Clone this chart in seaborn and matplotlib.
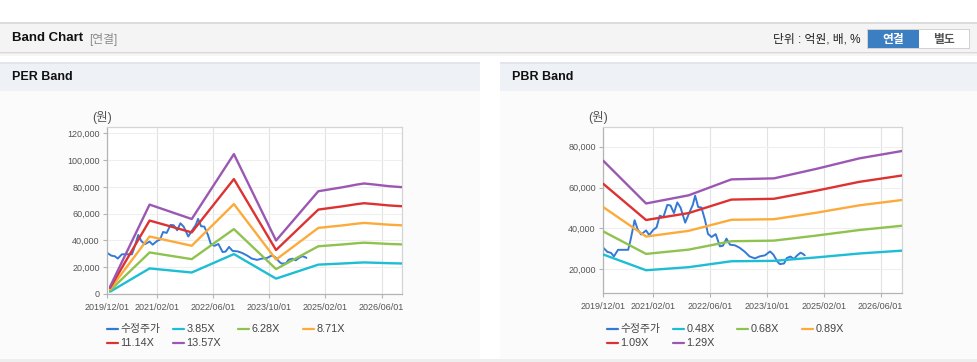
import matplotlib
matplotlib.use("Agg")
import matplotlib.pyplot as plt
import matplotlib.dates as mdates
from matplotlib.patches import Rectangle
from matplotlib.lines import Line2D
from matplotlib.ticker import FuncFormatter
import pandas as pd
import seaborn as sns

sns.set_theme(style="white")
plt.rcParams["font.family"] = ["Liberation Sans", "Noto Sans CJK KR"]

W, H = 978, 362

# adjusted share price (shared by both panels)
price_label = "수정주가"
price_dates = [
    "2019-12-01", "2020-01-05", "2020-02-05", "2020-03-01", "2020-04-05", "2020-05-15",
    "2020-07-01", "2020-07-20", "2020-08-25", "2020-09-20", "2020-10-20", "2020-12-01",
    "2020-12-28", "2021-02-01", "2021-03-01", "2021-03-28", "2021-04-28", "2021-06-01",
    "2021-06-28", "2021-07-28", "2021-08-25", "2021-09-22", "2021-11-01", "2021-12-05",
    "2022-01-05", "2022-01-25", "2022-02-20", "2022-03-20", "2022-04-20", "2022-05-15",
    "2022-06-15", "2022-07-20", "2022-08-25", "2022-09-20", "2022-10-20", "2022-11-20",
    "2023-01-01", "2023-02-10", "2023-03-25", "2023-05-05", "2023-06-20", "2023-08-01",
    "2023-09-15", "2023-10-28", "2023-11-25", "2024-01-01", "2024-01-20", "2024-02-25",
    "2024-03-20", "2024-04-20", "2024-05-20", "2024-06-15", "2024-07-15", "2024-08-05",
    "2024-08-20",
]
price_values = [
    30500, 28500, 28000, 26300, 29500, 29500,
    29500, 34000, 44000, 39500, 37000, 39000,
    36700, 39300, 40500, 46200, 45500, 51500,
    51200, 47500, 52700, 50200, 42800, 47500,
    51500, 56000, 50500, 50200, 44000, 37300,
    35800, 37200, 31200, 31500, 35000, 32000,
    31700, 30500, 28600, 26300, 25300, 26300,
    26800, 28700, 27200, 23600, 22500, 22800,
    25500, 26200, 25000, 26700, 28100, 27500,
    26800,
]

# PER band vertices
per_labels = ["3.85X", "6.28X", "8.71X", "11.14X", "13.57X"]
per_dates = ["2019-12-25", "2020-12-01", "2021-12-01", "2022-12-01", "2023-12-01",
             "2024-12-01", "2025-07-01", "2025-11-01", "2026-01-01", "2026-04-01",
             "2026-08-01", "2026-12-01"]
per_385 = [1500, 18920, 15860, 29650, 11290, 21760, 22610, 23180, 23410, 23180, 22840, 22610]
per_628 = [2450, 30870, 25870, 48360, 18420, 35500, 36880, 37810, 38180, 37810, 37250, 36880]
per_871 = [3400, 42810, 35880, 67080, 25550, 49230, 51150, 52440, 52960, 52440, 51670, 51150]
per_1114 = [4350, 54750, 45890, 85790, 32670, 62960, 65430, 67070, 67730, 67070, 66080, 65430]
per_1357 = [5300, 66700, 55900, 104500, 39800, 76700, 79700, 81700, 82500, 81700, 80500, 79700]

# PBR band vertices
pbr_labels = ["0.48X", "0.68X", "0.89X", "1.09X", "1.29X"]
pbr_dates = ["2019-12-01", "2020-12-01", "2021-12-01", "2022-12-01", "2023-12-01",
             "2024-12-01", "2025-12-01", "2026-12-01"]
pbr_048 = [27200, 19500, 21000, 23900, 24100, 25800, 27700, 29100]
pbr_068 = [38500, 27500, 29600, 33700, 34000, 36500, 39200, 41300]
pbr_089 = [50400, 36000, 38800, 44200, 44500, 47700, 51300, 53900]
pbr_109 = [61800, 44100, 47500, 54100, 54500, 58500, 62800, 65900]
pbr_129 = [73100, 52200, 56200, 64000, 64500, 69200, 74300, 77900]

x_ticks = ["2019-12-01", "2021-02-01", "2022-06-01", "2023-10-01", "2025-02-01", "2026-06-01"]
x_range = ["2019-12-01", "2026-11-28"]
per_yticks = [0, 20000, 40000, 60000, 80000, 100000, 120000]
pbr_yticks = [20000, 40000, 60000, 80000]

colors = ["#3379d6", "#1dbdd3", "#8fc24f", "#fcab3b", "#dd3232", "#9b58b3"]


def fx(x):
    return x / W


def fy(y):
    return 1 - y / H


def rect(fig, x0, y0, x1, y1, color, z=0):
    fig.add_artist(Rectangle((fx(x0), fy(y1)), fx(x1 - x0), (y1 - y0) / H,
                             transform=fig.transFigure, fc=color, ec="none", zorder=z))


def draw_frame(fig):
    # page header bar
    rect(fig, 0, 21.5, W, 23.5, "#dcdcdc")
    rect(fig, 0, 23.5, W, 52, "#f4f4f4")
    rect(fig, 0, 52, W, 53, "#d9d9d9")
    rect(fig, 0, 53, W, 54.5, "#ebebeb")
    rect(fig, 0, 54.5, W, 56, "#f6f6f6")
    fig.text(fx(12), fy(38), "Band Chart", fontsize=9.5, fontweight="bold",
             color="#111111", va="center")
    fig.text(fx(89), fy(39.5), "[연결]", fontsize=8.5, color="#8a8a8a", va="center")
    fig.text(fx(861), fy(39.5), "단위 : 억원, 배, %", fontsize=8.5, color="#222222",
             va="center", ha="right")
    rect(fig, 867.5, 28.5, 970, 48.5, "#d2d2d2")
    rect(fig, 868.5, 29.5, 919, 47.5, "#3b7ec2")
    rect(fig, 919, 29.5, 969, 47.5, "#ffffff")
    fig.text(fx(893.5), fy(40), "연결", fontsize=8.5, fontweight="bold",
             color="white", va="center", ha="center")
    fig.text(fx(944), fy(40), "별도", fontsize=8.5, fontweight="bold",
             color="#555555", va="center", ha="center")

    # panels
    for x0, x1, title in [(0, 480, "PER Band"), (500, W, "PBR Band")]:
        rect(fig, x0, 62, x1, 64, "#e1e5eb")
        rect(fig, x0, 64, x1, 91, "#eef2f7")
        rect(fig, x0, 91, x1, 359, "#fbfbfb")
        fig.text(fx(x0 + 12), fy(77), title, fontsize=9, fontweight="bold",
                 color="#111111", va="center")
    rect(fig, 0, 359, W, H, "#eeeeee")


def draw_band(ax, dates, bands, labels, yticks, ylim):
    sns.lineplot(x=pd.to_datetime(price_dates), y=price_values, ax=ax,
                 color=colors[0], linewidth=1.4, zorder=2)
    bd = pd.to_datetime(dates)
    for vals, c in zip(bands, colors[1:]):
        sns.lineplot(x=bd, y=vals, ax=ax, color=c, linewidth=1.7, zorder=3)

    ax.set_xlim(pd.to_datetime(x_range))
    ax.set_ylim(ylim)
    ax.set_xticks(pd.to_datetime(x_ticks))
    ax.xaxis.set_major_formatter(mdates.DateFormatter("%Y/%m/%d"))
    ax.set_yticks(yticks)
    ax.yaxis.set_major_formatter(FuncFormatter(lambda v, p: f"{v:,.0f}"))
    ax.set_xlabel("")
    ax.set_ylabel("")
    ax.set_facecolor("white")
    ax.grid(True, axis="x", color="#e2e2e2", linewidth=0.8)
    ax.grid(True, axis="y", color="#efefef", linewidth=0.8)
    for side, sp in ax.spines.items():
        sp.set_color("#b4b4b4" if side in ("left", "bottom") else "#d4d4d4")
        sp.set_linewidth(0.9)
    ax.tick_params(axis="both", labelsize=6.5, colors="#b4b4b4", labelcolor="#555555",
                   length=3, width=0.8, pad=2.5)
    ax.tick_params(axis="x", pad=4)
    ax.tick_params(left=True, bottom=True)


def draw_legend(fig, labels, x_cols, rows):
    items = [price_label] + labels
    for i, (lab, c) in enumerate(zip(items, colors)):
        x0 = x_cols[i % 4]
        y0 = rows[i // 4]
        fig.add_artist(Line2D([fx(x0), fx(x0 + 11)], [fy(y0), fy(y0)],
                              transform=fig.transFigure, color=c, linewidth=1.6))
        fig.text(fx(x0 + 13.5), fy(y0), lab, fontsize=7.8, color="#444444", va="center")


fig = plt.figure(figsize=(W / 100, H / 100), dpi=100)
fig.patch.set_facecolor("white")
draw_frame(fig)

ax1 = fig.add_axes([fx(107.3), fy(293.7), fx(295), 167 / H])
draw_band(ax1, per_dates, [per_385, per_628, per_871, per_1114, per_1357],
          per_labels, per_yticks, (0, 125000))
fig.text(fx(101.7), fy(118), "(원)", fontsize=9, color="#555555", ha="center", va="center")
draw_legend(fig, per_labels, [107, 173, 238, 303], [329, 343.3])

ax2 = fig.add_axes([fx(603.3), fy(292.7), fx(298.4), 166 / H])
draw_band(ax2, pbr_dates, [pbr_048, pbr_068, pbr_089, pbr_109, pbr_129],
          pbr_labels, pbr_yticks, (8500, 89800))
fig.text(fx(598.3), fy(118), "(원)", fontsize=9, color="#555555", ha="center", va="center")
draw_legend(fig, pbr_labels, [606.7, 673, 737.5, 802], [329, 343.3])

fig.savefig("out.png", dpi=100, facecolor="white")
